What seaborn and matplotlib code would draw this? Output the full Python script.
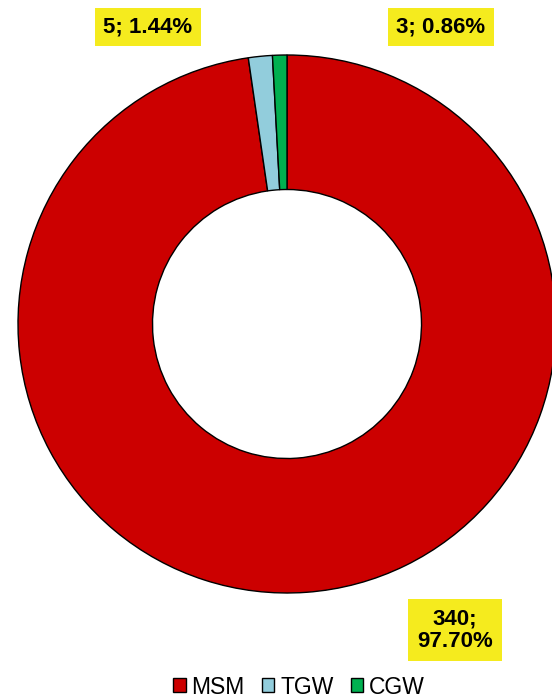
import matplotlib
matplotlib.use("Agg")
import matplotlib.pyplot as plt
import seaborn as sns

categories = ["MSM", "TGW", "CGW"]
counts = [340, 5, 3]
percents = ["97.70%", "1.44%", "0.86%"]
colors = ["#CC0000", "#92CDDC", "#00B050"]

sns.set_theme(style="white")
plt.rcParams['font.family'] = ['Liberation Sans', 'DejaVu Sans']

fig = plt.figure(figsize=(5.52, 6.99), dpi=100)
ax = fig.add_axes([0, 0, 1, 1])
W, H = 552, 699
cx, cy = 287, H - 324
R = 269
wedges, _ = ax.pie(counts, colors=sns.color_palette(colors), startangle=90, counterclock=False,
                   center=(cx, cy), radius=R,
                   wedgeprops=dict(width=R * 0.5, edgecolor="black", linewidth=1.0))
ax.set_xlim(0, W)
ax.set_ylim(0, H)
ax.set_aspect('equal')
ax.axis('off')

box = dict(boxstyle="square,pad=0.4", facecolor="#F5EB1E", edgecolor="none")
label_pos = [(455, H - 630), (148, H - 27), (441, H - 27)]
for i, (x, y) in enumerate(label_pos):
    txt = f"{counts[i]};\n{percents[i]}" if i == 0 else f"{counts[i]}; {percents[i]}"
    ax.text(x, y, txt, ha="center", va="center", fontsize=16, fontweight="bold",
            bbox=box, linespacing=1.1, color="black")

leg = ax.legend(wedges, categories, loc="center", bbox_to_anchor=(299 / W, 1 - 687 / H),
                ncol=3, frameon=False, fontsize=16.5, handlelength=0.55, handleheight=0.55,
                handletextpad=0.25, columnspacing=0.75, borderaxespad=0, labelcolor="black")

fig.savefig("out.png", dpi=100)
